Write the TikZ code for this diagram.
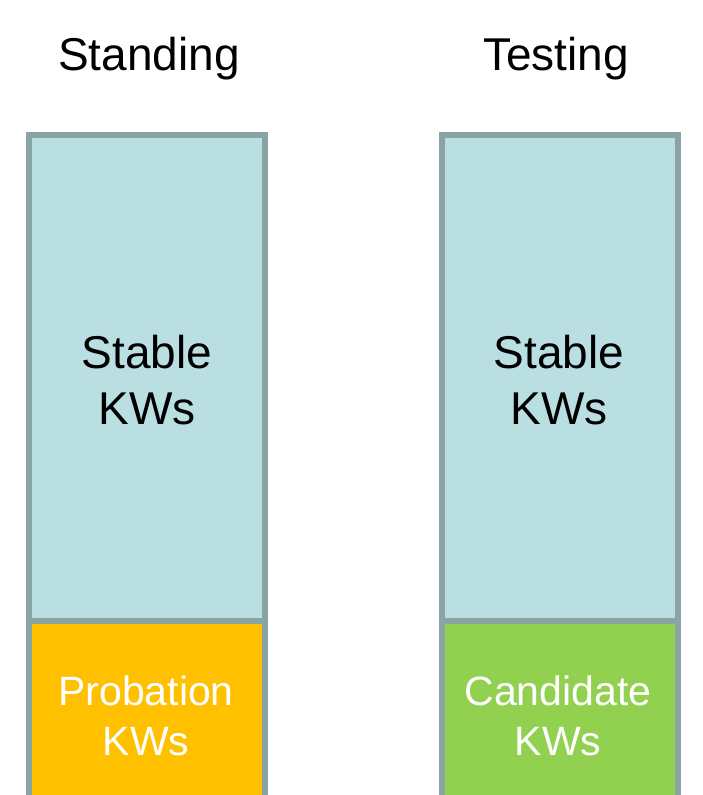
\documentclass[tikz,border=0pt]{standalone}
\usepackage{fontspec}
\setmainfont{Liberation Sans}
\definecolor{frame}{HTML}{8AA3A5}
\definecolor{stablefill}{HTML}{B9DFE2}
\definecolor{probfill}{HTML}{FFC000}
\definecolor{candfill}{HTML}{92D050}
\begin{document}
\begin{tikzpicture}[x=1pt,y=-1pt,
  boxstyle/.style={draw=frame, line width=6pt, minimum width=236pt, inner sep=0pt, outer sep=0pt},
  headstyle/.style={font=\fontsize{46}{54}\selectfont, text=black, inner sep=0pt},
  bigtext/.style={font=\fontsize{46}{56}\selectfont, text=black, align=center, inner sep=0pt},
  smalltext/.style={font=\fontsize{41}{50}\selectfont, text=white, align=center, inner sep=0pt}]
\useasboundingbox (0,0) rectangle (703,795);
% left column
\node[boxstyle, fill=probfill, minimum height=260pt] (prob) at (147,751) {};
\node[boxstyle, fill=stablefill, minimum height=486pt] (stableL) at (147,378) {};
% right column
\node[boxstyle, fill=candfill, minimum height=260pt] (cand) at (559.5,751) {};
\node[boxstyle, fill=stablefill, minimum height=486pt] (stableR) at (559.5,378) {};
% texts
\node[headstyle] (standing) at (149,59) {Standing};
\node[headstyle] (testing) at (556,59) {Testing};
\node[bigtext] (stableLt) at (147,380) {Stable\\KWs};
\node[bigtext] (stableRt) at (559,380) {Stable\\KWs};
\node[smalltext] (probt) at (146,716) {Probation\\KWs};
\node[smalltext] (candt) at (558,716) {Candidate\\KWs};
\end{tikzpicture}
\end{document}
